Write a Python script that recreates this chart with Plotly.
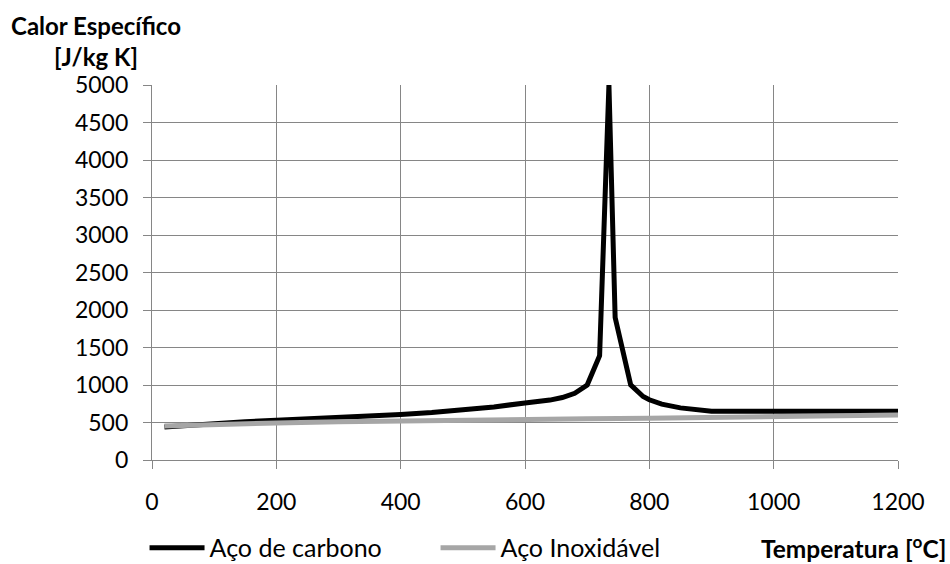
import plotly.graph_objects as go

# Carbon steel specific heat [J/kg K] vs temperature [°C]
temp_carbon = [20, 50, 100, 150, 200, 250, 300, 350, 400, 450, 500, 550, 600,
               620, 640, 660, 680, 700, 720, 735, 745, 770, 790, 800, 820,
               850, 880, 900, 1000, 1100, 1200]
cp_carbon = [440, 460, 488, 510, 530, 547, 565, 583, 606, 633, 666, 708, 760,
             776, 799, 833, 890, 1000, 1390, 5000, 1900, 1002, 847, 803, 745,
             695, 665, 650, 650, 650, 650]

# Stainless steel
temp_inox = [20, 100, 200, 300, 400, 500, 600, 700, 800, 900, 1000, 1100, 1200]
cp_inox = [455, 477, 495, 511, 524, 534, 542, 549, 556, 564, 573, 584, 599]

x_ticks = [0, 200, 400, 600, 800, 1000, 1200]
y_ticks = [0, 500, 1000, 1500, 2000, 2500, 3000, 3500, 4000, 4500, 5000]

FONT = "Lato"
GRID = "#868686"

fig = go.Figure()
fig.add_trace(go.Scatter(x=temp_carbon, y=cp_carbon, mode="lines",
                         name="Aço de carbono",
                         line=dict(color="#000000", width=5)))
fig.add_trace(go.Scatter(x=temp_inox, y=cp_inox, mode="lines",
                         name="Aço Inoxidável",
                         line=dict(color="#a6a6a6", width=5)))

fig.update_layout(
    width=950, height=564,
    margin=dict(l=152, r=52, t=85, b=104, autoexpand=False),
    paper_bgcolor="white", plot_bgcolor="white",
    font=dict(family=FONT, size=23, color="#000000"),
    showlegend=True,
    legend=dict(orientation="h", x=-0.01, y=-0.173, xanchor="left", yanchor="top",
                font=dict(family=FONT, size=25), itemwidth=55,
                entrywidth=221, entrywidthmode="pixels",
                bgcolor="rgba(0,0,0,0)"),
    xaxis=dict(range=[0, 1200], tickvals=x_ticks, ticktext=[str(v) for v in x_ticks],
               showgrid=True, gridcolor=GRID, gridwidth=1.3,
               showline=True, linecolor=GRID, linewidth=1.3,
               ticks="outside", ticklen=8, tickcolor=GRID, tickwidth=1.3,
               zeroline=False, tickfont=dict(family=FONT, size=23),
               ticklabelstandoff=13, automargin=False, fixedrange=True),
    yaxis=dict(range=[0, 5000], tickvals=y_ticks, ticktext=[str(v) for v in y_ticks],
               showgrid=True, gridcolor=GRID, gridwidth=1.3,
               showline=True, linecolor=GRID, linewidth=1.3,
               ticks="outside", ticklen=8, tickcolor=GRID, tickwidth=1.3,
               zeroline=False, tickfont=dict(family=FONT, size=23),
               ticklabelstandoff=10, automargin=False, fixedrange=True),
    annotations=[
        dict(text="<b>Calor Específico</b><br><b>[J/kg K]</b>",
             xref="paper", yref="paper", x=-0.075, y=1.117,
             xanchor="center", yanchor="middle", showarrow=False,
             font=dict(family=FONT, size=24), align="center"),
        dict(text="<b>Temperatura [<sup>o</sup>C]</b>",
             xref="paper", yref="paper", x=1.067, y=-0.232,
             xanchor="right", yanchor="middle", showarrow=False,
             font=dict(family=FONT, size=24.5)),
    ],
)

fig.write_html("out.html")
